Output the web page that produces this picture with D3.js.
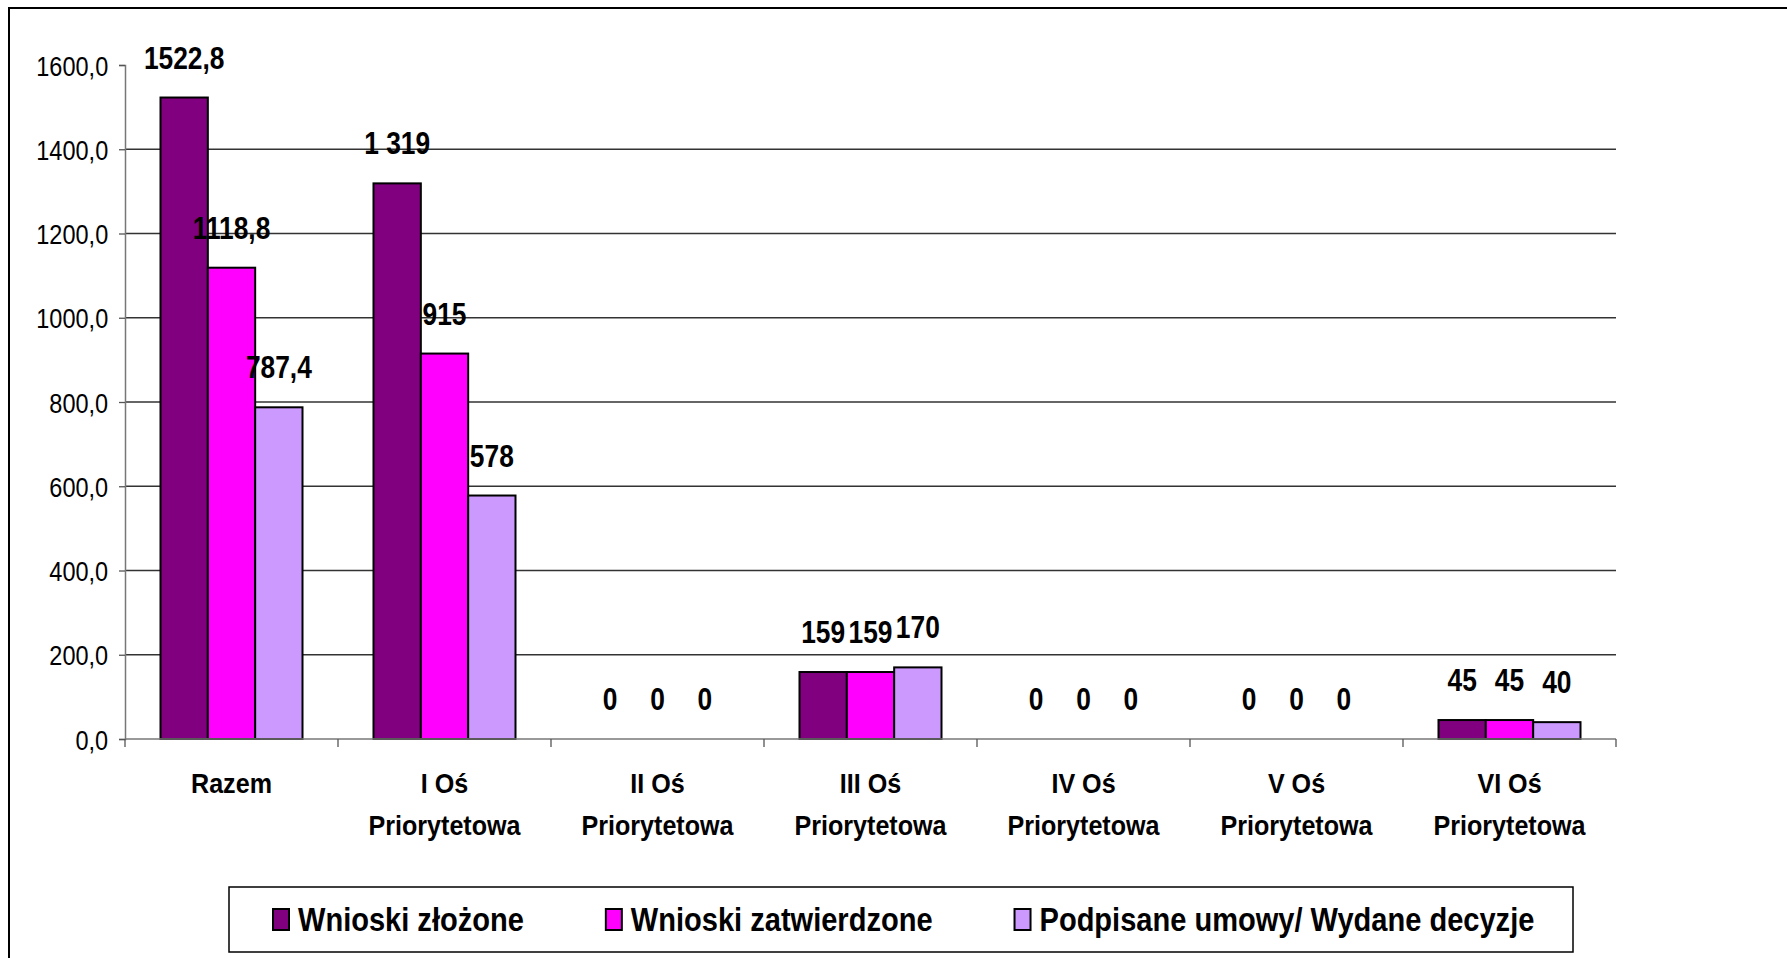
<!DOCTYPE html>
<html>
<head>
<meta charset="utf-8">
<script src="https://cdn.jsdelivr.net/npm/d3@7"></script>
<style>
  body { margin: 0; background: #fff; }
  svg { display: block; }
  text { font-family: "Liberation Sans Narrow", "Arial Narrow", "Liberation Sans", Arial, sans-serif; fill: #000; }
</style>
</head>
<body>
<div id="chart"></div>
<script>
  var categories = [["Razem"], ["I Oś", "Priorytetowa"], ["II Oś", "Priorytetowa"], ["III Oś", "Priorytetowa"], ["IV Oś", "Priorytetowa"], ["V Oś", "Priorytetowa"], ["VI Oś", "Priorytetowa"]];
  var seriesNames = ["Wnioski złożone", "Wnioski zatwierdzone", "Podpisane umowy/ Wydane decyzje"];
  var wnioskiZlozone = [1522.8, 1319, 0, 159, 0, 0, 45];
  var wnioskiZatwierdzone = [1118.8, 915, 0, 159, 0, 0, 45];
  var podpisaneUmowy = [787.4, 578, 0, 170, 0, 0, 40];
  var valueLabels = [
    ["1522,8", "1 319", "0", "159", "0", "0", "45"],
    ["1118,8", "915", "0", "159", "0", "0", "45"],
    ["787,4", "578", "0", "170", "0", "0", "40"]
  ];
  var yTicks = [0, 200, 400, 600, 800, 1000, 1200, 1400, 1600];
  var colors = ["#800080", "#FF00FF", "#CC99FF"];

  var width = 1787, height = 958;
  var plotLeft = 125, plotRight = 1616, plotTop = 65, plotBottom = 739;

  var svg = d3.select("#chart").append("svg")
    .attr("width", width)
    .attr("height", height);

  // outer frame
  svg.append("rect")
    .attr("x", 9).attr("y", 8)
    .attr("width", 1900).attr("height", 1100)
    .attr("fill", "none").attr("stroke", "#000").attr("stroke-width", 2);

  var keys = d3.range(categories.length);
  var x0 = d3.scaleBand().domain(keys).range([plotLeft, plotRight]).padding(0);
  var bw = x0.bandwidth();
  var x1 = d3.scaleBand().domain([0, 1, 2]).range([bw / 6, bw - bw / 6]).padding(0);
  var y = d3.scaleLinear().domain([0, 1600]).range([plotBottom, plotTop]);

  var series = [wnioskiZlozone, wnioskiZatwierdzone, podpisaneUmowy];

  // gridlines
  svg.append("g").selectAll("line")
    .data(yTicks.filter(function(d) { return d > 0 && d < 1600; }))
    .enter().append("line")
    .attr("x1", plotLeft).attr("x2", plotRight)
    .attr("y1", function(d) { return y(d); })
    .attr("y2", function(d) { return y(d); })
    .attr("stroke", "#333").attr("stroke-width", 1.3);

  // y axis
  var yAxis = svg.append("g")
    .attr("transform", "translate(" + plotLeft + ",0)")
    .call(d3.axisLeft(y).tickValues(yTicks).tickSize(6).tickPadding(14)
      .tickFormat(function(d) { return d3.format(".1f")(d).replace(".", ","); }));
  yAxis.select(".domain").attr("stroke", "#777").attr("stroke-width", 1.5);
  yAxis.selectAll(".tick line").attr("stroke", "#555").attr("stroke-width", 1.3);
  yAxis.selectAll("text")
    .attr("font-size", 28).attr("font-family", null).attr("dy", "0.36em")
    .attr("transform", "scale(0.84,1)");

  // bars
  var groups = svg.append("g").selectAll("g")
    .data(keys)
    .enter().append("g")
    .attr("transform", function(k) { return "translate(" + x0(k) + ",0)"; });

  groups.selectAll("rect")
    .data(function(k) { return series.map(function(s, i) { return { s: i, v: s[k] }; }); })
    .enter().append("rect")
    .filter(function(d) { return d.v > 0; })
    .attr("x", function(d) { return x1(d.s); })
    .attr("y", function(d) { return y(d.v); })
    .attr("width", x1.bandwidth())
    .attr("height", function(d) { return y(0) - y(d.v); })
    .attr("fill", function(d) { return colors[d.s]; })
    .attr("stroke", "#000").attr("stroke-width", 2);

  // value labels
  groups.selectAll("text.val")
    .data(function(k) { return series.map(function(s, i) { return { s: i, v: s[k], t: valueLabels[i][k] }; }); })
    .enter().append("text")
    .attr("class", "val")
    .attr("transform", function(d) {
      return "translate(" + (x1(d.s) + x1.bandwidth() / 2) + "," + (y(d.v) - 29) + ") scale(0.85,1)";
    })
    .attr("text-anchor", "middle")
    .attr("font-size", 31).attr("font-weight", "bold")
    .text(function(d) { return d.t; });

  // x axis
  svg.append("line")
    .attr("x1", plotLeft).attr("x2", plotRight)
    .attr("y1", plotBottom).attr("y2", plotBottom)
    .attr("stroke", "#777").attr("stroke-width", 1.5);
  svg.append("g").selectAll("line")
    .data(keys.map(function(k) { return x0(k); }).concat([plotRight]))
    .enter().append("line")
    .attr("x1", function(d) { return d; }).attr("x2", function(d) { return d; })
    .attr("y1", plotBottom).attr("y2", plotBottom + 8)
    .attr("stroke", "#555").attr("stroke-width", 1.3);

  var catText = svg.append("g").selectAll("text")
    .data(keys)
    .enter().append("text")
    .attr("text-anchor", "middle")
    .attr("font-size", 27).attr("font-weight", "bold")
    .attr("transform", function(k) { return "translate(" + (x0(k) + bw / 2) + ",793) scale(0.93,1)"; });
  catText.selectAll("tspan")
    .data(function(k) { return categories[k]; })
    .enter().append("tspan")
    .attr("x", 0)
    .attr("y", function(d, i) { return i * 42; })
    .text(function(d) { return d; });

  // legend
  var squeeze = 0.88;
  var legend = svg.append("g");
  legend.append("rect")
    .attr("x", 229).attr("y", 887)
    .attr("width", 1344).attr("height", 65)
    .attr("fill", "#fff").attr("stroke", "#000").attr("stroke-width", 1.5);
  var lx = 273;
  seriesNames.forEach(function(name, i) {
    legend.append("rect")
      .attr("x", lx).attr("y", 909)
      .attr("width", 16).attr("height", 21)
      .attr("fill", colors[i]).attr("stroke", "#000").attr("stroke-width", 2);
    var t = legend.append("text")
      .attr("transform", "translate(" + (lx + 25) + ",931) scale(" + squeeze + ",1)")
      .attr("font-size", 33).attr("font-weight", "bold")
      .text(name);
    lx += 25 + t.node().getComputedTextLength() * squeeze + 82;
  });
</script>
</body>
</html>
